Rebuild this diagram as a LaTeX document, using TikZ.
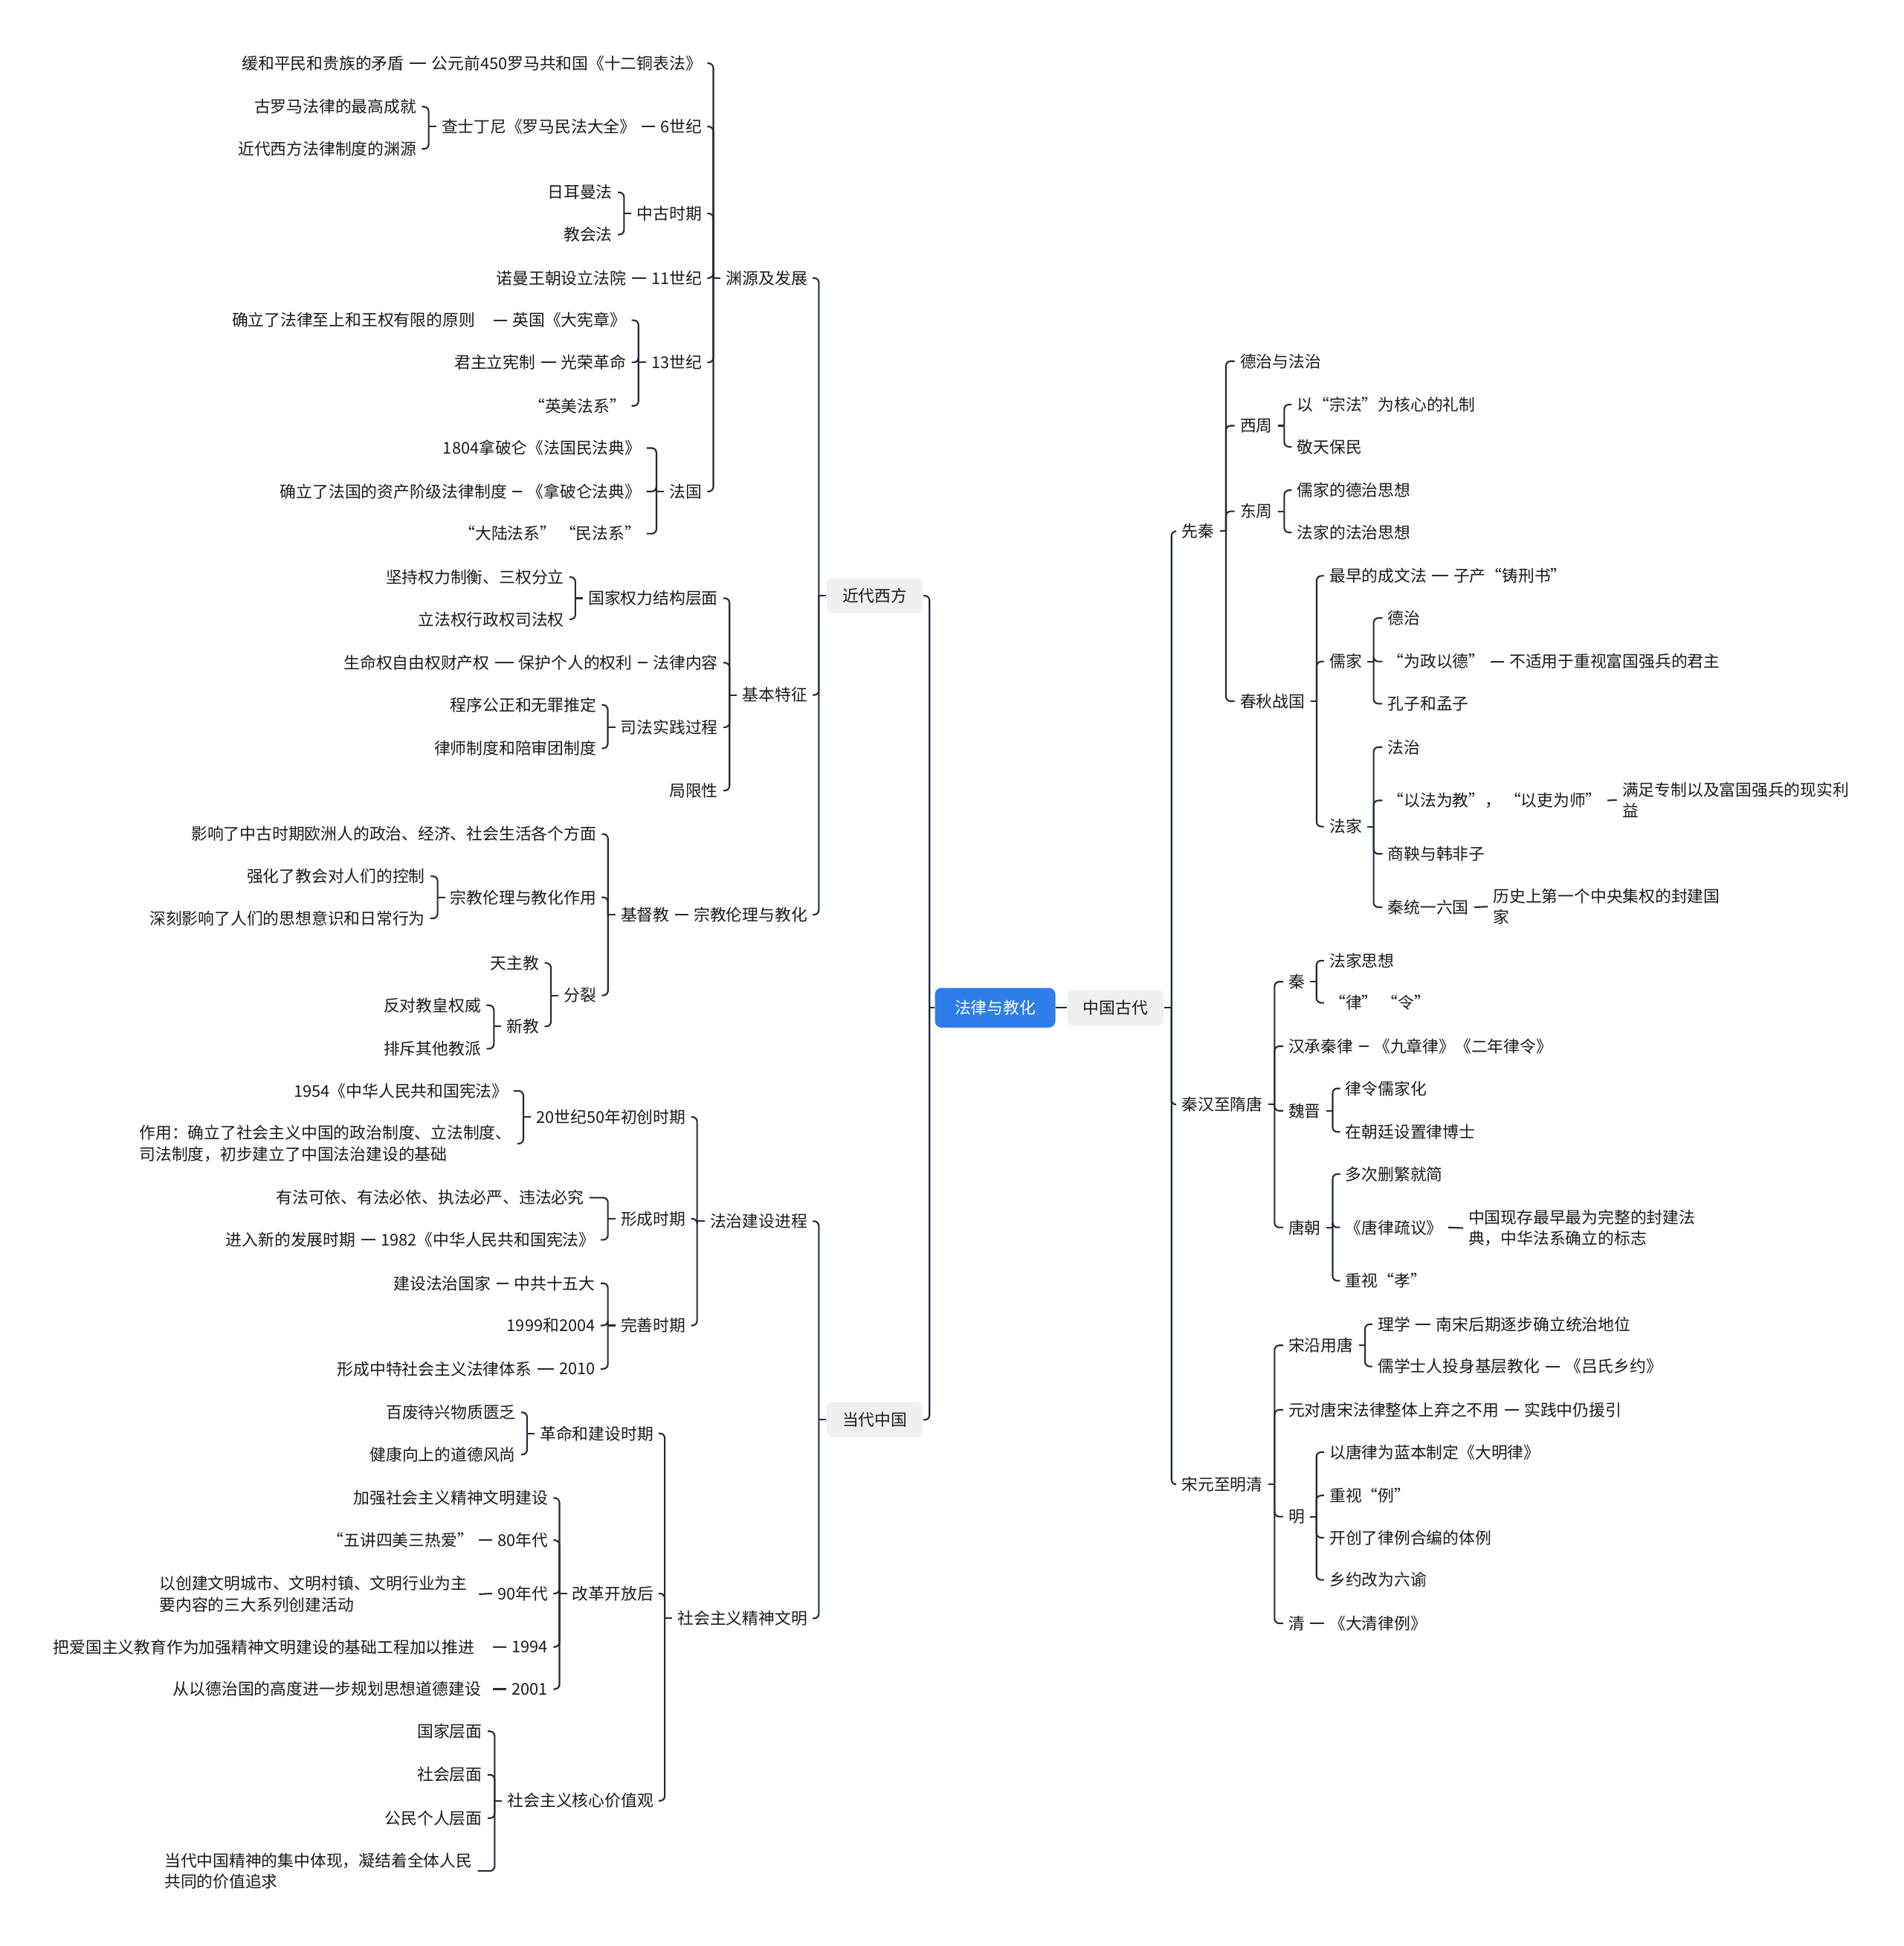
\documentclass[tikz,border=0pt]{standalone}
\usepackage{fontspec}
\setmainfont{Noto Sans CJK SC}
\usepackage{tikz}
\usetikzlibrary{positioning}
\usepackage{xcolor}

\definecolor{lnk}{HTML}{1F2A3A}
\definecolor{txt}{HTML}{1A1A1A}
\definecolor{rootblue}{HTML}{2F7CEB}
\definecolor{topicgray}{HTML}{EEF0F3}
\newcommand\mmfont{\fontsize{6.2pt}{8.1pt}\selectfont}

% children fan out to the left / right of a parent, joined by a bar
\newcommand\lkids[3][6]{%
  \draw[link] (#2.west) -- ++(-#1,0);
  \foreach \kid in {#3} {\draw[link] (#2.west) ++(-#1,0) |- (\kid.east);}}
\newcommand\rkids[3][5]{%
  \draw[link] (#2.east) -- ++(#1,0);
  \foreach \kid in {#3} {\draw[link] (#2.east) ++(#1,0) |- (\kid.west);}}
\newcommand\ltie[2]{\draw[link] (#1.west) -- (#2.east);}
\newcommand\rtie[2]{\draw[link] (#1.east) -- (#2.west);}

\begin{document}
\begin{tikzpicture}[
  x=0.0167cm, y=-0.0167cm,
  link/.style  = {draw=lnk, line width=0.6pt, rounded corners=1.8pt},
  tx/.style    = {font=\mmfont, text=txt, inner xsep=0.067cm, inner ysep=0.05cm},
  lt/.style    = {tx, anchor=east},
  rt/.style    = {tx, anchor=west},
  lt2/.style   = {lt, align=left},
  rt2/.style   = {rt, align=left},
  rootbox/.style  = {font=\mmfont, fill=rootblue, text=white, rounded corners=2.5pt,
                     inner xsep=0.265cm, minimum height=0.534cm},
  topicbox/.style = {font=\mmfont, fill=topicgray, text=txt, rounded corners=2pt,
                     inner xsep=0.21cm, minimum height=0.47cm},
]
\useasboundingbox (0,0) rectangle (1534,1568);
\fill[white] (0,0) rectangle (1534,1568);

% ================= centre ==============================================
\node[rootbox]  (root) at (802,812) {法律与教化};
\node[topicbox] (jdxf) at (705,480) {近代西方};
\node[topicbox] (ddzg) at (705,1144) {当代中国};
\node[topicbox] (zggd) at (899,812) {中国古代};

% ================= 近代西方 ============================================
\node[lt] (yyfz) at (655,224) {渊源及发展};
\node[lt] (jbtz) at (655,560) {基本特征};
\node[lt] (zjll) at (655,737) {宗教伦理与教化};
\node[lt] (jdj)  at (544,737) {基督教};

% 渊源及发展
\node[lt] (sew)   at (570,51)  {公元前450罗马共和国《十二铜表法》};
\node[lt] (hhpm)  at (330,51)  {缓和平民和贵族的矛盾};
\node[lt] (c6)    at (570,102) {6世纪};
\node[lt] (cstd)  at (517,102) {查士丁尼《罗马民法大全》};
\node[lt] (glm)   at (340,86)  {古罗马法律的最高成就};
\node[lt] (jdxfy) at (340,120) {近代西方法律制度的渊源};
\node[lt] (zgsq)  at (570,172) {中古时期};
\node[lt] (rem)   at (498,155) {日耳曼法};
\node[lt] (jhf)   at (498,189) {教会法};
\node[lt] (c11)   at (570,224) {11世纪};
\node[lt] (nmwc)  at (509,224) {诺曼王朝设立法院};
\node[lt] (c13)   at (570,292) {13世纪};
\node[lt] (dxz)   at (509,258) {英国《大宪章》};
\node[lt] (flzs)  at (398,258) {确立了法律至上和王权有限的原则\kern0.18cm};
\node[lt] (grgm)  at (509,292) {光荣革命};
\node[lt] (jzlx)  at (436,292) {君主立宪制};
\node[lt] (ymfx)  at (509,327) {“英美法系”};
\node[lt] (fg)    at (570,396) {法国};
\node[lt] (fgmfd) at (521,361) {1804拿破仑《法国民法典》};
\node[lt] (npl)   at (521,396) {《拿破仑法典》};
\node[lt] (zcjj)  at (413,396) {确立了法国的资产阶级法律制度};
\node[lt] (dlfx)  at (521,430) {“大陆法系” “民法系”};

% 基本特征
\node[lt] (gjql) at (583,482) {国家权力结构层面};
\node[lt] (jcql) at (459,465) {坚持权力制衡、三权分立};
\node[lt] (lfq)  at (459,499) {立法权行政权司法权};
\node[lt] (flnr) at (583,534) {法律内容};
\node[lt] (bhgr) at (514,534) {保护个人的权利};
\node[lt] (smq)  at (399,534) {生命权自由权财产权};
\node[lt] (sfsj) at (583,586) {司法实践过程};
\node[lt] (cxgz) at (485,568) {程序公正和无罪推定};
\node[lt] (lszd) at (485,603) {律师制度和陪审团制度};
\node[lt] (jxx)  at (583,637) {局限性};

% 基督教
\node[lt] (yxzg) at (485,672) {影响了中古时期欧洲人的政治、经济、社会生活各个方面};
\node[lt] (zjzy) at (485,723) {宗教伦理与教化作用};
\node[lt] (qhjh) at (347,706) {强化了教会对人们的控制};
\node[lt] (sksx) at (347,740) {深刻影响了人们的思想意识和日常行为};
\node[lt] (fl)   at (485,802) {分裂};
\node[lt] (tzj)  at (439,776) {天主教};
\node[lt] (xj)   at (439,827) {新教};
\node[lt] (fdjh) at (392,810) {反对教皇权威};
\node[lt] (pcqt) at (392,845) {排斥其他教派};

% ================= 当代中国 ============================================
\node[lt] (fzjs) at (655,984)  {法治建设进程};
\node[lt] (shjs) at (655,1304) {社会主义精神文明};

% 法治建设进程
\node[lt]  (cc50)  at (557,900)   {20世纪50年初创时期};
\node[lt]  (xf54)  at (414,879)   {1954《中华人民共和国宪法》};
\node[lt2] (zy)    at (417,921.5) {作用：确立了社会主义中国的政治制度、立法制度、\\司法制度，初步建立了中国法治建设的基础};
\node[lt]  (xcsq)  at (557,982)   {形成时期};
\node[lt]  (yfky)  at (475,965)   {有法可依、有法必依、执法必严、违法必究};
\node[lt]  (xf82)  at (484,999)   {1982《中华人民共和国宪法》};
\node[lt]  (jrxd)  at (291,999)   {进入新的发展时期};
\node[lt]  (wssq)  at (557,1068)  {完善时期};
\node[lt]  (zgsw)  at (484,1034)  {中共十五大};
\node[lt]  (jsfz)  at (400,1034)  {建设法治国家};
\node[lt]  (n1999) at (484,1068)  {1999和2004};
\node[lt]  (n2010) at (484,1103)  {2010};
\node[lt]  (tx)    at (433,1103)  {形成中特社会主义法律体系};

% 社会主义精神文明
\node[lt]  (gmjs)  at (531,1155)  {革命和建设时期};
\node[lt]  (bfdx)  at (420,1138)  {百废待兴物质匮乏};
\node[lt]  (jkxs)  at (420,1172)  {健康向上的道德风尚};
\node[lt]  (ggkf)  at (531,1284)  {改革开放后};
\node[lt]  (jqsh)  at (446,1207)  {加强社会主义精神文明建设};
\node[lt]  (nd80)  at (446,1241)  {80年代};
\node[lt]  (wjsm)  at (386,1241)  {“五讲四美三热爱”};
\node[lt]  (nd90)  at (446,1284)  {90年代};
\node[lt2] (cjwm)  at (386,1284.5){以创建文明城市、文明村镇、文明行业为主\kern0.083cm\\要内容的三大系列创建活动};
\node[lt]  (n1994) at (446,1327)  {1994};
\node[lt]  (aggz)  at (397,1327)  {把爱国主义教育作为加强精神文明建设的基础工程加以推进\kern0.17cm};
\node[lt]  (n2001) at (446,1361)  {2001};
\node[lt]  (yddz)  at (397,1361)  {从以德治国的高度进一步规划思想道德建设\kern0.083cm};
\node[lt]  (hxjz)  at (531,1451)  {社会主义核心价值观};
\node[lt]  (gjcm)  at (393,1395)  {国家层面};
\node[lt]  (shcm)  at (393,1430)  {社会层面};
\node[lt]  (gmgr)  at (393,1465)  {公民个人层面};
\node[lt2] (ddjs)  at (385,1507.5){当代中国精神的集中体现，凝结着全体人民\\共同的价值追求};

% ================= 中国古代 ============================================
\node[rt] (xq)   at (948,428)  {先秦};
\node[rt] (qhsd) at (948,890)  {秦汉至隋唐};
\node[rt] (symq) at (948,1196) {宋元至明清};

% 先秦
\node[rt]  (dzfz)  at (995,291)  {德治与法治};
\node[rt]  (xz)    at (995,343)  {西周};
\node[rt]  (zlz)   at (1041,326) {以“宗法”为核心的礼制};
\node[rt]  (jtbm)  at (1041,360) {敬天保民};
\node[rt]  (dz)    at (995,412)  {东周};
\node[rt]  (rjdz)  at (1041,395) {儒家的德治思想};
\node[rt]  (fjfz)  at (1041,429) {法家的法治思想};
\node[rt]  (cqzg)  at (995,565)  {春秋战国};
\node[rt]  (zzcwf) at (1067,464) {最早的成文法};
\node[rt]  (zcxs)  at (1167,464) {子产“铸刑书”};
\node[rt]  (rj)    at (1067,533) {儒家};
\node[rt]  (dezhi) at (1114,498) {德治};
\node[rt]  (wzyd)  at (1114,533) {“为政以德”};
\node[rt]  (bsy)   at (1212,533) {不适用于重视富国强兵的君主};
\node[rt]  (kzmz)  at (1114,567) {孔子和孟子};
\node[rt]  (fj)    at (1067,666) {法家};
\node[rt]  (fazhi) at (1114,602) {法治};
\node[rt]  (yfwj)  at (1114,645) {“以法为教”， “以吏为师”};
\node[rt2] (mzzz)  at (1303,644.5) {满足专制以及富国强兵的现实利\\益};
\node[rt]  (syhf)  at (1114,688) {商鞅与韩非子};
\node[rt]  (qtyl)  at (1114,731) {秦统一六国};
\node[rt2] (lssd)  at (1199,730.5) {历史上第一个中央集权的封建国\\家};

% 秦汉至隋唐
\node[rt]  (qin)   at (1034,791) {秦};
\node[rt]  (fjsx)  at (1067,774) {法家思想};
\node[rt]  (lvl)   at (1067,808) {“律” “令”};
\node[rt]  (hcql)  at (1034,843) {汉承秦律};
\node[rt]  (jzl)   at (1103,843) {《九章律》《二年律令》};
\node[rt]  (wj)    at (1034,895) {魏晋};
\node[rt]  (llrj)  at (1080,877) {律令儒家化};
\node[rt]  (zcts)  at (1080,912) {在朝廷设置律博士};
\node[rt]  (tc)    at (1034,989) {唐朝};
\node[rt]  (dcsf)  at (1080,946) {多次删繁就简};
\node[rt]  (tlsy)  at (1080,989) {《唐律疏议》};
\node[rt2] (zgxc)  at (1179,989.5) {中国现存最早最为完整的封建法\\典，中华法系确立的标志};
\node[rt]  (zsx)   at (1080,1032) {重视“孝”};

% 宋元至明清
\node[rt]  (sydt)  at (1034,1084) {宋沿用唐};
\node[rt]  (lx)    at (1106,1067) {理学};
\node[rt]  (nshq)  at (1153,1067) {南宋后期逐步确立统治地位};
\node[rt]  (rxsr)  at (1106,1101) {儒学士人投身基层教化};
\node[rt]  (lsxy)  at (1257,1101) {《吕氏乡约》};
\node[rt]  (ydts)  at (1034,1136) {元对唐宋法律整体上弃之不用};
\node[rt]  (sjzr)  at (1224,1136) {实践中仍援引};
\node[rt]  (ming)  at (1034,1222) {明};
\node[rt]  (ytlw)  at (1067,1170) {以唐律为蓝本制定《大明律》};
\node[rt]  (zsl)   at (1067,1205) {重视“例”};
\node[rt]  (kclz)  at (1067,1239) {开创了律例合编的体例};
\node[rt]  (xygw)  at (1067,1273) {乡约改为六谕};
\node[rt]  (qing)  at (1034,1308) {清};
\node[rt]  (dqll)  at (1067,1308) {《大清律例》};

% ================= edges ===============================================
\lkids[4]{root}{jdxf,ddzg}
\draw[link] (root.east) -- (zggd.west);
\rkids[6]{zggd}{xq,qhsd,symq}

\lkids{jdxf}{yyfz,jbtz,zjll}
\ltie{zjll}{jdj}
\lkids{yyfz}{sew,c6,zgsq,c11,c13,fg}
\ltie{sew}{hhpm}
\ltie{c6}{cstd}
\lkids{cstd}{glm,jdxfy}
\lkids{zgsq}{rem,jhf}
\ltie{c11}{nmwc}
\lkids{c13}{dxz,grgm,ymfx}
\ltie{dxz}{flzs}
\ltie{grgm}{jzlx}
\lkids{fg}{fgmfd,npl,dlfx}
\ltie{npl}{zcjj}
\lkids{jbtz}{gjql,flnr,sfsj,jxx}
\lkids{gjql}{jcql,lfq}
\ltie{flnr}{bhgr}
\ltie{bhgr}{smq}
\lkids{sfsj}{cxgz,lszd}
\lkids{jdj}{yxzg,zjzy,fl}
\lkids{zjzy}{qhjh,sksx}
\lkids{fl}{tzj,xj}
\lkids{xj}{fdjh,pcqt}

\lkids{ddzg}{fzjs,shjs}
\lkids{fzjs}{cc50,xcsq,wssq}
\lkids{cc50}{xf54,zy}
\lkids{xcsq}{yfky,xf82}
\ltie{xf82}{jrxd}
\lkids{wssq}{zgsw,n1999,n2010}
\ltie{zgsw}{jsfz}
\ltie{n2010}{tx}
\lkids{shjs}{gmjs,ggkf,hxjz}
\lkids{gmjs}{bfdx,jkxs}
\lkids{ggkf}{jqsh,nd80,nd90,n1994,n2001}
\ltie{nd80}{wjsm}
\ltie{nd90}{cjwm}
\ltie{n1994}{aggz}
\ltie{n2001}{yddz}
\lkids{hxjz}{gjcm,shcm,gmgr,ddjs}

\rkids{xq}{dzfz,xz,dz,cqzg}
\rkids{xz}{zlz,jtbm}
\rkids{dz}{rjdz,fjfz}
\rkids{cqzg}{zzcwf,rj,fj}
\rtie{zzcwf}{zcxs}
\rkids{rj}{dezhi,wzyd,kzmz}
\rtie{wzyd}{bsy}
\rkids{fj}{fazhi,yfwj,syhf,qtyl}
\rtie{yfwj}{mzzz}
\rtie{qtyl}{lssd}
\rkids{qhsd}{qin,hcql,wj,tc}
\rkids{qin}{fjsx,lvl}
\rtie{hcql}{jzl}
\rkids{wj}{llrj,zcts}
\rkids{tc}{dcsf,tlsy,zsx}
\rtie{tlsy}{zgxc}
\rkids{symq}{sydt,ydts,ming,qing}
\rkids{sydt}{lx,rxsr}
\rtie{lx}{nshq}
\rtie{rxsr}{lsxy}
\rtie{ydts}{sjzr}
\rkids{ming}{ytlw,zsl,kclz,xygw}
\rtie{qing}{dqll}

\end{tikzpicture}
\end{document}
